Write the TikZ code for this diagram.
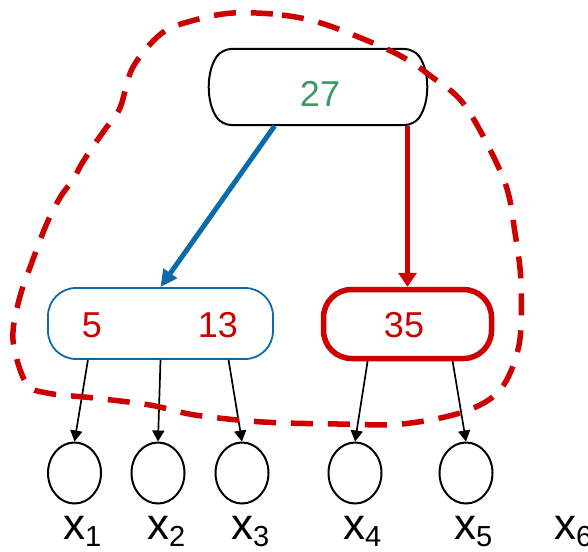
\documentclass[tikz,border=0pt]{standalone}
\usepackage{fontspec}
\setmainfont{Liberation Sans}
\usetikzlibrary{positioning,arrows.meta,shapes.geometric,shapes.misc,calc}
\definecolor{keyred}{HTML}{CC0000}
\definecolor{keyblue}{HTML}{0B6BAA}
\definecolor{keygreen}{HTML}{3A9966}

\begin{document}
\begin{tikzpicture}[x=1pt, y=-1pt,
    every node/.style={inner sep=0pt, font=\fontsize{36}{40}\selectfont},
    key/.style={draw, minimum height=71pt, rounded corners=28pt},
    leaf/.style={draw, ellipse, line width=2pt, minimum width=53pt, minimum height=61pt},
    ptr/.style={-{Triangle[length=11pt, width=12pt]}, line width=1.7pt},
    lbl/.style={anchor=base west, font=\fontsize{44}{48}\selectfont}]
        \useasboundingbox (0,0) rectangle (588,551);

        % Root with its key
        \node (root) [draw, line width=2pt, rounded rectangle, rounded rectangle arc length=70,
            rounded corners=9pt, minimum width=216pt, minimum height=76pt] at (318,87) {};
        \node (k27) [text=keygreen] at (320,94) {27};

        % Inner nodes
        \node (lnode) [key, draw=keyblue, line width=1.8pt, minimum width=225pt] at (160.5,323.5) {};
        \node (k5) [text=keyred] at (92,325) {5};
        \node (k13) [text=keyred] at (218,325) {13};

        \node (rnode) [key, draw=keyred, line width=5.5pt, minimum width=168pt, minimum height=69pt] at (407.5,324) {};
        \node (k35) [text=keyred] at (404,325) {35};

        % Leaves and their labels
        \foreach \name/\xx in {c1/74.5, c2/158, c3/242, c4/355, c5/466}
            \node (\name) [leaf] at (\xx,473) {};
        \foreach \i/\xx in {1/63, 2/147, 3/231, 4/343, 5/454, 6/554}
            \node (x\i) [lbl] at (\xx,539) {x\raisebox{-7pt}{\fontsize{29}{30}\selectfont\i}};

        % Pointers
        \draw[keyblue, line width=5pt, -{Triangle[length=17pt, width=16pt]}]
            ($(root.south west)!0.275!(root.south east)$) -- (lnode.north);
        \draw[keyred, line width=5pt, -{Triangle[length=14pt, width=18pt]}]
            (rnode.north |- root.south) -- (rnode.north);

        \draw[ptr] ($(lnode.south west)!0.18!(lnode.south east)$) -- (c1.north);
        \draw[ptr] (lnode.south) -- (c2.north);
        \draw[ptr] ($(lnode.south west)!0.80!(lnode.south east)$) -- (c3.north);
        \draw[ptr] ($(rnode.south west)!0.27!(rnode.south east)$) -- (c4.north);
        \draw[ptr] ($(rnode.south west)!0.76!(rnode.south east)$) -- (c5.north);

        % Dashed outline round the upper part
        \draw[keyred, line width=5.5pt, dash pattern=on 22pt off 15pt]
            plot[smooth cycle, tension=0.55] coordinates {
            (233,13) (282,15) (327,25) (395,53) (432,77) (466,107) (504,180)
            (515,233) (521,283) (519,345) (500,390) (463,412) (402,424)
            (338,424) (263,422) (195,415) (150,405) (94,398) (47,393)
            (26,383) (13,340) (19,300) (32,262) (47,223) (61,196) (73,180)
            (81,165) (92,148) (106,128) (120,108) (133,67) (162,33) (195,20)};
      \end{tikzpicture}
\end{document}
